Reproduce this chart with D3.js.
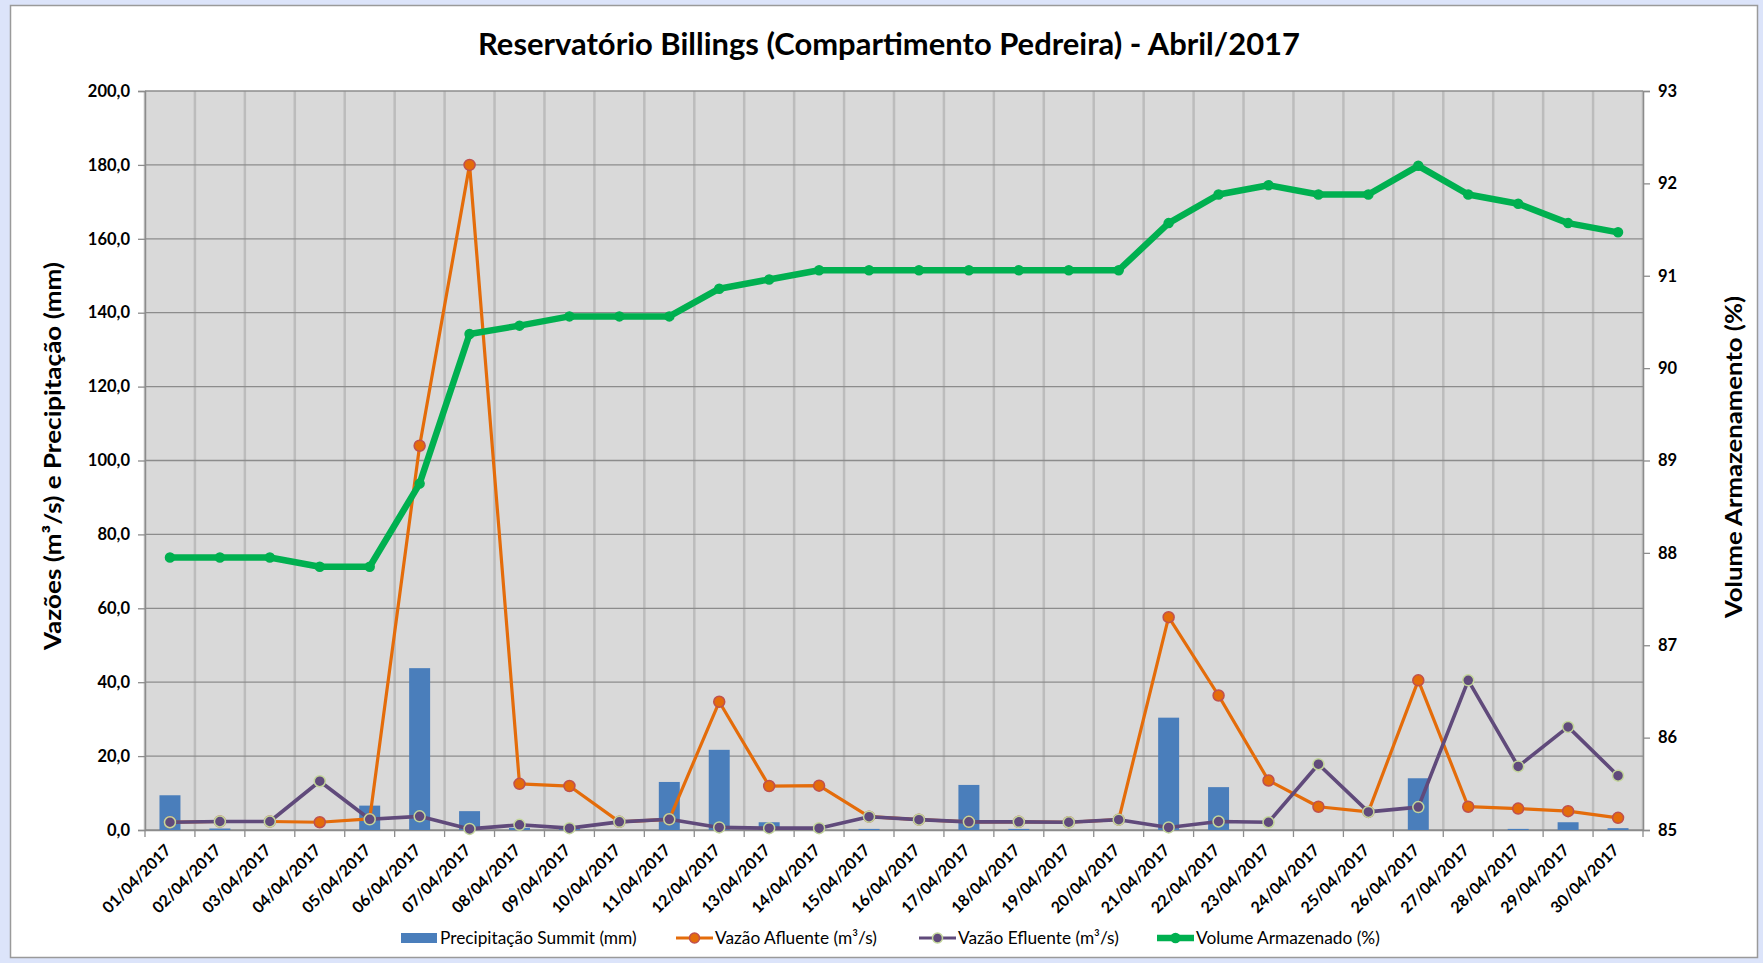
<!DOCTYPE html>
<html>
<head>
<meta charset="utf-8">
<script src="https://cdn.jsdelivr.net/npm/d3@7"></script>
<style>
  body { margin: 0; background: #dce4fa; }
  svg { display: block; }
  text { font-family: Lato, "Open Sans", sans-serif; fill: #000; }
</style>
</head>
<body>
<div id="chart"></div>
<script>
// Data
//= ================================
const dates = ["01/04/2017", "02/04/2017", "03/04/2017", "04/04/2017", "05/04/2017",
  "06/04/2017", "07/04/2017", "08/04/2017", "09/04/2017", "10/04/2017",
  "11/04/2017", "12/04/2017", "13/04/2017", "14/04/2017", "15/04/2017",
  "16/04/2017", "17/04/2017", "18/04/2017", "19/04/2017", "20/04/2017",
  "21/04/2017", "22/04/2017", "23/04/2017", "24/04/2017", "25/04/2017",
  "26/04/2017", "27/04/2017", "28/04/2017", "29/04/2017", "30/04/2017"];

const precipitacao = [9.4, 0.4, 0, 0, 6.6, 43.8, 5.1, 0.6, 0.6, 0,
  13.0, 21.7, 2.1, 0, 0.3, 0, 12.2, 0.3, 0, 0,
  30.4, 11.6, 0, 0, 0, 14.0, 0, 0.3, 2.1, 0.5];

const vazaoAfluente = [2.1, 2.3, 2.3, 2.1, 3.0, 104.0, 180.0, 12.5, 11.9, 2.2,
  2.9, 34.7, 11.9, 12.0, 3.6, 2.8, 2.2, 2.2, 2.1, 2.8,
  57.6, 36.4, 13.4, 6.3, 4.9, 40.5, 6.3, 5.8, 5.1, 3.3];

const vazaoEfluente = [2.1, 2.3, 2.3, 13.2, 2.9, 3.7, 0.3, 1.4, 0.5, 2.2,
  2.9, 0.7, 0.5, 0.5, 3.6, 2.8, 2.2, 2.2, 2.1, 2.8,
  0.7, 2.3, 2.1, 17.8, 4.9, 6.2, 40.5, 17.2, 27.9, 14.7];

const volume = [87.95, 87.95, 87.95, 87.85, 87.85, 88.75, 90.37, 90.46, 90.56, 90.56,
  90.56, 90.86, 90.96, 91.06, 91.06, 91.06, 91.06, 91.06, 91.06, 91.06,
  91.57, 91.88, 91.98, 91.88, 91.88, 92.19, 91.88, 91.78, 91.57, 91.47];

const leftTicks = [0, 20, 40, 60, 80, 100, 120, 140, 160, 180, 200];
const rightTicks = [85, 86, 87, 88, 89, 90, 91, 92, 93];

const legendLabels = ["Precipitação Summit (mm)", "Vazão Afluente (m³/s)",
  "Vazão Efluente (m³/s)", "Volume Armazenado (%)"];

// Set up the chart
//= ================================
const svgWidth = 1763;
const svgHeight = 963;

const margin = { top: 91, right: 120, bottom: 133, left: 145 };
const width = svgWidth - margin.left - margin.right;
const height = svgHeight - margin.top - margin.bottom;

const svg = d3.select("#chart")
  .append("svg")
  .attr("width", svgWidth)
  .attr("height", svgHeight);

// white chart panel
svg.append("rect")
  .attr("x", 10.5).attr("y", 5.5)
  .attr("width", 1747).attr("height", 952)
  .attr("fill", "#fff")
  .attr("stroke", "#9a9a9a")
  .attr("stroke-width", 1.5);

svg.append("text")
  .attr("x", 889)
  .attr("y", 55)
  .attr("text-anchor", "middle")
  .attr("font-size", 30)
  .attr("font-weight", "bold")
  .attr("textLength", 822)
  .attr("lengthAdjust", "spacingAndGlyphs")
  .text("Reservatório Billings (Compartimento Pedreira) - Abril/2017");

const chartGroup = svg.append("g")
  .attr("transform", `translate(${margin.left}, ${margin.top})`);

// Scales
const xScale = d3.scaleBand().domain(dates).range([0, width]);
const yLeft = d3.scaleLinear().domain([0, 200]).range([height, 0]);
const yRight = d3.scaleLinear().domain([85, 93]).range([height, 0]);

// plot background + grid
chartGroup.append("rect")
  .attr("width", width).attr("height", height)
  .attr("fill", "#d9d9d9");

const bounds = dates.map(d => xScale(d)).concat([width]);
chartGroup.selectAll("line.vgrid")
  .data(bounds)
  .enter()
  .append("line")
  .attr("class", "vgrid")
  .attr("x1", d => d).attr("x2", d => d)
  .attr("y1", 0).attr("y2", height)
  .attr("stroke", "#bcbcbc")
  .attr("stroke-width", 2.5);

chartGroup.selectAll("line.hgrid")
  .data(leftTicks)
  .enter()
  .append("line")
  .attr("class", "hgrid")
  .attr("x1", 0).attr("x2", width)
  .attr("y1", d => yLeft(d)).attr("y2", d => yLeft(d))
  .attr("stroke", "#8c8c8c")
  .attr("stroke-width", 1.3);

// Axes
const fmt = d => d3.format(".1f")(d).replace(".", ",");
const leftAxis = d3.axisLeft(yLeft).tickValues(leftTicks).tickFormat(fmt).tickSize(7).tickPadding(8);
const rightAxis = d3.axisRight(yRight).tickValues(rightTicks).tickFormat(d3.format("d")).tickSize(7).tickPadding(8);
const bottomAxis = d3.axisBottom(xScale).tickSize(0).tickFormat("");

const gL = chartGroup.append("g").call(leftAxis);
const gR = chartGroup.append("g").attr("transform", `translate(${width}, 0)`).call(rightAxis);
[gL, gR].forEach(g => {
  g.select(".domain").attr("stroke", "#8c8c8c").attr("stroke-width", 1.3);
  g.selectAll(".tick line").attr("stroke", "#8c8c8c").attr("stroke-width", 1.3);
  g.selectAll(".tick text")
    .attr("font-size", 16.5)
    .attr("font-weight", "bold")
    .style("font-family", "Lato, sans-serif");
});

const gB = chartGroup.append("g").attr("transform", `translate(0, ${height})`).call(bottomAxis);
gB.select(".domain").attr("stroke", "#8c8c8c").attr("stroke-width", 1.3);

// x ticks at band boundaries
chartGroup.selectAll("line.xtick")
  .data(bounds)
  .enter()
  .append("line")
  .attr("class", "xtick")
  .attr("x1", d => d).attr("x2", d => d)
  .attr("y1", height).attr("y2", height + 7)
  .attr("stroke", "#8c8c8c")
  .attr("stroke-width", 1.3);

// rotated date labels
chartGroup.selectAll("text.xlab")
  .data(dates)
  .enter()
  .append("text")
  .attr("class", "xlab")
  .attr("transform", d => `translate(${xScale(d) + xScale.bandwidth() / 2 - 6}, ${height + 13}) rotate(-45)`)
  .attr("text-anchor", "end")
  .attr("dy", "0.72em")
  .attr("font-size", 16)
  .attr("font-weight", "bold")
  .text(d => d);

// axis titles
svg.append("text")
  .attr("transform", `translate(61, 456) rotate(-90)`)
  .attr("text-anchor", "middle")
  .attr("font-size", 23)
  .attr("font-weight", "bold")
  .attr("textLength", 388)
  .attr("lengthAdjust", "spacingAndGlyphs")
  .text("Vazões (m³/s) e Precipitação (mm)");

svg.append("text")
  .attr("transform", `translate(1742, 457) rotate(-90)`)
  .attr("text-anchor", "middle")
  .attr("font-size", 23)
  .attr("font-weight", "bold")
  .attr("textLength", 322)
  .attr("lengthAdjust", "spacingAndGlyphs")
  .text("Volume Armazenamento (%)");

// Bars
const barW = xScale.bandwidth() * 0.42;
chartGroup.selectAll("rect.bar")
  .data(precipitacao)
  .enter()
  .append("rect")
  .attr("class", "bar")
  .attr("x", (d, i) => xScale(dates[i]) + (xScale.bandwidth() - barW) / 2)
  .attr("y", d => yLeft(d))
  .attr("width", barW)
  .attr("height", d => height - yLeft(d))
  .attr("fill", "#4a7ebb");

// Lines
const cx = i => xScale(dates[i]) + xScale.bandwidth() / 2;
const lineL = d3.line().x((d, i) => cx(i)).y(d => yLeft(d));
const lineR = d3.line().x((d, i) => cx(i)).y(d => yRight(d));

function drawSeries(values, lineGen, scale, color, lw, mFill, mStroke, r, cls) {
  chartGroup.append("path")
    .datum(values)
    .attr("fill", "none")
    .attr("stroke", color)
    .attr("stroke-width", lw)
    .attr("stroke-linejoin", "round")
    .attr("d", lineGen);
  chartGroup.selectAll("circle." + cls)
    .data(values)
    .enter()
    .append("circle")
    .attr("class", cls)
    .attr("cx", (d, i) => cx(i))
    .attr("cy", d => scale(d))
    .attr("r", r)
    .attr("fill", mFill)
    .attr("stroke", mStroke)
    .attr("stroke-width", 1.5);
}

drawSeries(vazaoAfluente, lineL, yLeft, "#e46c0a", 3.2, "#e46c0a", "#c0504d", 5.5, "afl");
drawSeries(vazaoEfluente, lineL, yLeft, "#604a7b", 3.6, "#604a7b", "#c3d69b", 5.5, "efl");
drawSeries(volume, lineR, yRight, "#00b050", 6.5, "#00b050", "#00b050", 4.5, "vol");

// Legend
const legendY = 938;
const legendX = [401, 676, 919, 1157];
const legend = svg.append("g");
legendLabels.forEach((label, i) => {
  const g = legend.append("g").attr("transform", `translate(${legendX[i]}, ${legendY})`);
  if (i === 0) {
    g.append("rect").attr("x", 0).attr("y", -5).attr("width", 36).attr("height", 10).attr("fill", "#4a7ebb");
  } else {
    const colors = [null, "#e46c0a", "#604a7b", "#00b050"];
    const strokes = [null, "#c0504d", "#c3d69b", "#00b050"];
    g.append("line").attr("x1", 0).attr("x2", 37).attr("y1", 0).attr("y2", 0)
      .attr("stroke", colors[i]).attr("stroke-width", i === 3 ? 6.5 : 3.2);
    g.append("circle").attr("cx", 18.5).attr("cy", 0).attr("r", i === 3 ? 4.5 : 5)
      .attr("fill", colors[i]).attr("stroke", strokes[i]).attr("stroke-width", 1.5);
  }
  g.append("text")
    .attr("x", 39)
    .attr("y", 0)
    .attr("dy", "0.35em")
    .attr("font-size", 17.3)
    .text(label);
});
</script>
</body>
</html>
